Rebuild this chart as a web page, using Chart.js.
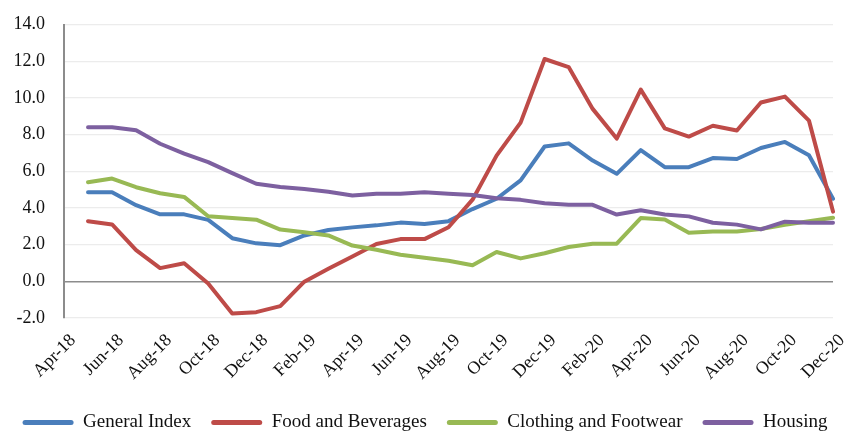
<!DOCTYPE html>
<html>
<head>
<meta charset="utf-8">
<script src="https://cdn.jsdelivr.net/npm/chart.js@4/dist/chart.umd.min.js"></script>
<style>
  html, body { margin: 0; padding: 0; background: #fff; }
  #wrap { width: 850px; height: 432px; }
</style>
</head>
<body>
<div id="wrap"><canvas id="cpi-chart" width="850" height="432"></canvas></div>
<script>
"use strict";

const months = [
  'Apr-18', 'May-18', 'Jun-18', 'Jul-18', 'Aug-18', 'Sep-18', 'Oct-18', 'Nov-18', 'Dec-18',
  'Jan-19', 'Feb-19', 'Mar-19', 'Apr-19', 'May-19', 'Jun-19', 'Jul-19', 'Aug-19', 'Sep-19',
  'Oct-19', 'Nov-19', 'Dec-19', 'Jan-20', 'Feb-20', 'Mar-20', 'Apr-20', 'May-20', 'Jun-20',
  'Jul-20', 'Aug-20', 'Sep-20', 'Oct-20', 'Nov-20', 'Dec-20'
];

const generalIndex = [null, 4.85, 4.85, 4.15, 3.65, 3.65, 3.35, 2.35, 2.07, 1.97, 2.5, 2.8,
  2.94, 3.05, 3.2, 3.12, 3.28, 3.94, 4.5, 5.5, 7.35, 7.52, 6.58, 5.86, 7.15, 6.22, 6.22,
  6.72, 6.67, 7.27, 7.6, 6.87, 4.5];

const foodBeverages = [null, 3.28, 3.1, 1.7, 0.72, 0.98, -0.12, -1.75, -1.68, -1.35, -0.02, 0.68,
  1.35, 2.03, 2.3, 2.3, 2.95, 4.45, 6.85, 8.65, 12.12, 11.68, 9.4, 7.78, 10.45, 8.34, 7.89,
  8.48, 8.22, 9.75, 10.07, 8.76, 3.8];

const clothingFootwear = [null, 5.4, 5.6, 5.13, 4.8, 4.6, 3.55, 3.45, 3.36, 2.82, 2.67, 2.5,
  1.95, 1.72, 1.45, 1.28, 1.12, 0.88, 1.6, 1.25, 1.53, 1.87, 2.05, 2.05, 3.45, 3.37, 2.65,
  2.72, 2.72, 2.85, 3.08, 3.27, 3.47];

const housing = [null, 8.4, 8.4, 8.24, 7.5, 6.96, 6.5, 5.9, 5.32, 5.14, 5.03, 4.88,
  4.68, 4.77, 4.77, 4.86, 4.77, 4.7, 4.53, 4.44, 4.26, 4.17, 4.17, 3.64, 3.87, 3.64, 3.54,
  3.19, 3.09, 2.83, 3.25, 3.19, 3.19];

const yTicks = [-2, 0, 2, 4, 6, 8, 10, 12, 14];

Chart.defaults.font.family = '"Liberation Serif", "Times New Roman", serif';
Chart.defaults.color = '#111';

function series(label, values, color, order) {
  return {
    label: label,
    data: values,
    borderColor: color,
    backgroundColor: color,
    borderWidth: 4,
    pointRadius: 0,
    pointHoverRadius: 0,
    tension: 0,
    borderJoinStyle: 'round',
    borderCapStyle: 'round',
    spanGaps: false,
    order: order
  };
}

// side axes keep a fixed width and ask for no extra room above/below
function fixWidth(w) {
  return scale => {
    scale.width = w;
    scale.paddingTop = 0;
    scale.paddingBottom = 0;
  };
}

const data = {
  labels: months,
  datasets: [
    series('General Index', generalIndex, '#4a7ebb', 4),
    series('Food and Beverages', foodBeverages, '#be4b48', 3),
    series('Clothing and Footwear', clothingFootwear, '#98b954', 2),
    series('Housing', housing, '#7d60a0', 1)
  ]
};

const config = {
  type: 'line',
  data,
  options: {
    responsive: false,
    animation: false,
    devicePixelRatio: 1,
    layout: {
      padding: { top: 24.5, left: 0, right: 0, bottom: -10 }
    },
    plugins: {
      legend: {
        position: 'bottom',
        labels: {
          font: { size: 19 },
          color: '#111',
          boxWidth: 51,
          boxHeight: 5,
          padding: 20,
          sort: (a, b) => a.datasetIndex - b.datasetIndex,
          generateLabels(chart) {
            const items = Chart.defaults.plugins.legend.labels.generateLabels(chart);
            items.forEach(item => {
              item.fillStyle = item.strokeStyle;
              item.lineWidth = 0;
              item.borderRadius = 2.5;
            });
            return items;
          }
        }
      },
      tooltip: { enabled: false }
    },
    scales: {
      x: {
        grid: { display: false },
        border: { display: false },
        ticks: {
          autoSkip: false,
          minRotation: 45,
          maxRotation: 45,
          padding: 4,
          labelOffset: 9,
          font: { size: 18 },
          color: '#111',
          callback: (value, index) => (index % 2 === 0 ? months[index] : '')
        },
        afterFit(scale) {
          scale.height = 75;
          scale.paddingLeft = 0;
          scale.paddingRight = 0;
        }
      },
      y: {
        min: -2,
        max: 14,
        afterBuildTicks(scale) {
          scale.ticks = yTicks.map(v => ({ value: v }));
        },
        grid: {
          drawTicks: false,
          color: ctx => (ctx.tick && ctx.tick.value === 0 ? '#8c8c8c' : '#ececec'),
          lineWidth: ctx => (ctx.tick && ctx.tick.value === 0 ? 1.5 : 1.2)
        },
        border: { display: true, color: '#8c8c8c', width: 2 },
        ticks: {
          padding: 19,
          font: { size: 18 },
          color: '#111',
          callback: v => v.toFixed(1)
        },
        afterFit: fixWidth(64)
      },
      yRight: {
        position: 'right',
        display: true,
        grid: { display: false },
        border: { display: false },
        ticks: { display: false },
        afterFit: fixWidth(17)
      }
    }
  }
};

new Chart(document.getElementById('cpi-chart'), config);
</script>
</body>
</html>
